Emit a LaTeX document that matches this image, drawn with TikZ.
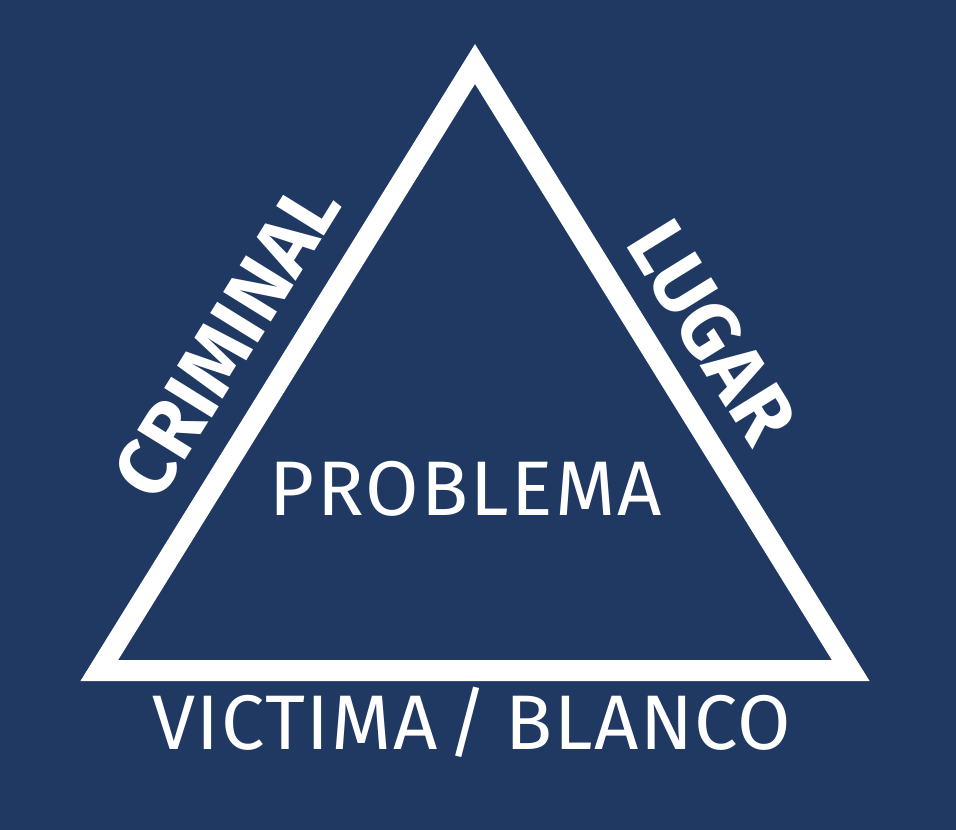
\documentclass[tikz,border=0pt]{standalone}
\usepackage{fontspec}
\setmainfont{Fira Sans}
\usepackage{tikz}

\definecolor{navy}{RGB}{31,57,98}

\begin{document}
\begin{tikzpicture}[x=0.01cm, y=-0.01cm,
    label text/.style={text=white, inner sep=0pt, font=\fontsize{22}{26}\selectfont\addfontfeature{LetterSpace=3}},
    side text/.style={label text, font=\fontsize{23}{26}\selectfont\bfseries\addfontfeature{LetterSpace=0.5}}]
  \fill[navy] (0, 0) rectangle (956, 830);
  \useasboundingbox (0, 0) rectangle (956, 830);
  \coordinate (top) at (475, 64);
  \coordinate (left) at (99.3, 670.5);
  \coordinate (right) at (850.7, 670.5);
  \draw[white, line width=21*0.01cm] (top) -- (left) -- (right) -- cycle;
  \node[label text, anchor=base] (problema) at (466, 515) {PROBLEMA};
  \node[label text, anchor=base, font=\fontsize{22}{26}\selectfont\addfontfeature{LetterSpace=2}]
    (victima) at (472, 750) {VICTIMA\hspace{3pt}/\hspace{5pt}BLANCO};
  \node[side text, rotate=58.2] (criminal) at (227, 340) {CRIMINAL};
  \node[side text, rotate=-58.2] (lugar) at (712, 332) {LUGAR};
\end{tikzpicture}
\end{document}
